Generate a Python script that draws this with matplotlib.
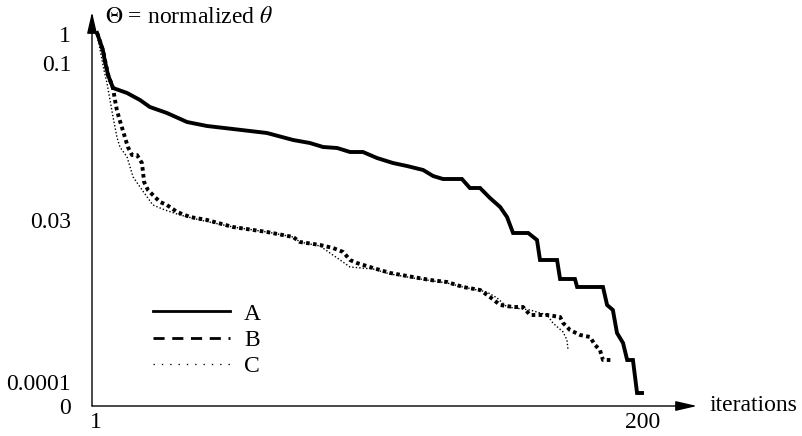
import matplotlib
matplotlib.use("Agg")
import matplotlib.pyplot as plt
from matplotlib.lines import Line2D

plt.rcParams["font.family"] = ["Liberation Serif", "DejaVu Serif"]
plt.rcParams["mathtext.fontset"] = "stix"
plt.rcParams["font.size"] = 17
plt.rcParams["lines.scale_dashes"] = False

# niveaux (hauteur au-dessus de l'axe des x)
iter_a = [1.4, 3.5, 4.3, 5.4, 7.2, 12.3, 17, 20.6, 26.8, 34.1, 41.4, 50.8, 63.2,
          72.7, 78.8, 83.6, 88.7, 93.4, 98.1, 103.2, 109, 114.1, 120, 123.6,
          127.2, 134.1, 137, 140.7, 144.3, 148, 150.5, 152.7, 158.2, 161.4,
          162.5, 168.7, 169.8, 175.2, 176, 185.4, 186.9, 189, 190.5, 192.7,
          194.2, 196.3, 197.8, 199.6]
level_a = [373, 356, 344, 331, 318, 313, 306, 299, 293, 284, 280, 277, 273,
           266, 263, 259, 258, 254, 254, 248, 243, 240, 236, 230,
           227, 227, 218, 218, 208, 199, 189, 173, 173, 166,
           146, 146, 127, 127, 119, 119, 101, 96, 73, 63,
           46, 46, 13, 13]

iter_b = [1.4, 3.5, 5.4, 7.2, 7.9, 8.6, 9.4, 10.5, 11.5, 12.6, 14.1, 15.9,
          17.7, 18.1, 18.5, 19.9, 21.7, 24.3, 26.8, 30.5, 35.2, 41.4, 50.8,
          63.2, 72.7, 75.2, 82.5, 87.2, 90.9, 93.4, 95.9, 101.8, 108, 116.3,
          122.5, 128.7, 134.5, 140.7, 144.3, 148, 152.7, 156.3, 158.9, 165.1,
          169.8, 170.9, 173.4, 177.1, 180.7, 182.5, 184.3, 185.4, 188.7]
level_b = [373, 356, 331, 318, 306, 296, 288, 278, 269, 259, 251, 251,
           243, 234, 224, 216, 211, 204, 201, 194, 189, 186, 179,
           174, 169, 164, 161, 158, 154, 146, 143, 138, 133, 129,
           126, 124, 119, 116, 109, 101, 99, 99, 91, 91,
           89, 83, 76, 71, 69, 61, 56, 46, 46]

iter_c = [1.4, 2.5, 3.9, 5, 6.1, 7.2, 8.6, 9.7, 12.3, 14.5, 17, 19.6, 21.7,
          26.1, 31.6, 38.8, 50.8, 63.2, 72.7, 75.2, 82.5, 86.1, 89.8, 93.4,
          101.8, 108, 116.3, 128.7, 134.5, 143.2, 146.9, 150.5, 158.9, 165.1,
          167.2, 170.9, 172.3, 172.7]
level_c = [373, 356, 336, 323, 306, 289, 269, 259, 249, 229, 219, 209, 201,
           196, 191, 186, 179, 174, 169, 164, 160, 153, 146, 139,
           137, 132, 128, 123, 119, 114, 108, 99, 96, 91,
           83, 74, 66, 56]

x_ticks = [1, 200]
y_tick_levels = [0, 24, 186, 343, 372]
y_tick_labels = ["0", "0.0001", "0.03", "0.1", "1"]

W, H = 802, 436
fig = plt.figure(figsize=(W / 100, H / 100), dpi=100)
ax = fig.add_axes([92 / W, (H - 406) / H, (697 - 92) / W, (406 - 12) / H])
ax.set_xlim(-0.45, 219.6)
ax.set_ylim(0, 394)

ax.plot(iter_a, level_a, color="k", lw=2.8, solid_joinstyle="miter")
ax.plot(iter_b, level_b, color="k", lw=2.8, linestyle=(0, (2.6, 2.4)))
ax.plot(iter_c, level_c, color="k", lw=1.0, linestyle=(0, (1, 1.5)))

# axes avec fleches
for s in ax.spines.values():
    s.set_visible(False)
flèche = dict(arrowstyle="-|>,head_length=1.3,head_width=0.3", lw=1,
              color="k", mutation_scale=10, shrinkA=0, shrinkB=0)
ax.annotate("", xy=(1, 0), xytext=(0, 0), xycoords="axes fraction",
            arrowprops=flèche)
ax.annotate("", xy=(0, 1), xytext=(0, 0), xycoords="axes fraction",
            arrowprops=flèche)

ax.set_xticks(x_ticks)
ax.set_xticklabels([str(t) for t in x_ticks])
ax.set_yticks(y_tick_levels)
ax.set_yticklabels(y_tick_labels)
ax.tick_params(axis="y", length=0, pad=15)
ax.tick_params(axis="x", length=0, pad=4)

fig.text(105 / W, (H - 23) / H, r"$\Theta$ = normalized $\theta$",
         va="baseline", ha="left")
fig.text(710 / W, (H - 405) / H, "iterations", va="center", ha="left")

handles = [
    Line2D([], [], color="k", lw=2),
    Line2D([], [], color="k", lw=2, linestyle=(0, (8, 5.5))),
    Line2D([], [], color="k", lw=0.9, linestyle=(0, (1, 5))),
]
ax.legend(handles, ["A", "B", "C"], frameon=False, loc="center left",
          bbox_to_anchor=(153 / W, (H - 340) / H),
          bbox_transform=fig.transFigure, borderpad=0, borderaxespad=0,
          handlelength=3.26, handletextpad=0.6, labelspacing=0.2)

fig.savefig("out.png", dpi=100)
